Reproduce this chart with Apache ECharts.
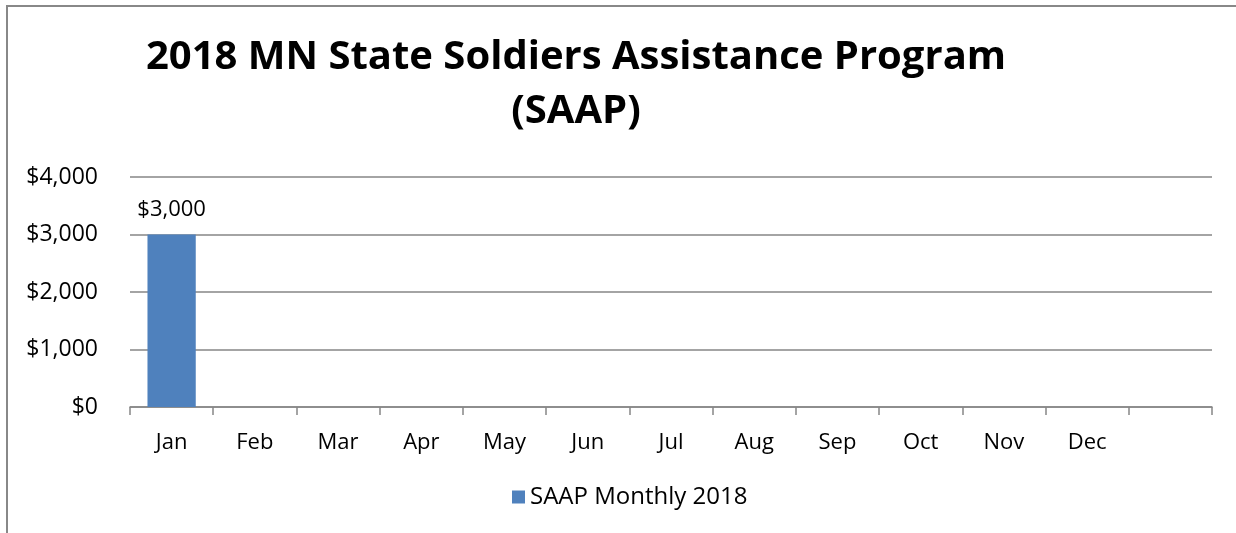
<!DOCTYPE html>
<html>
<head>
<meta charset="utf-8">
<script src="https://cdn.jsdelivr.net/npm/echarts@6/dist/echarts.min.js"></script>
<style>
  html, body { margin: 0; padding: 0; background: #fff; }
  #chart { width: 1236px; height: 533px; }
</style>
</head>
<body>
<div id="chart"></div>
<script>
const months = ['Jan', 'Feb', 'Mar', 'Apr', 'May', 'Jun', 'Jul', 'Aug', 'Sep', 'Oct', 'Nov', 'Dec', ''];
const saapMonthly = [3000, null, null, null, null, null, null, null, null, null, null, null, null];
const yTicks = [0, 1000, 2000, 3000, 4000];

const fontFam = '"Open Sans", "Noto Sans", sans-serif';
const money = v => '$' + Number(v).toLocaleString('en-US');

const chart = echarts.init(document.getElementById('chart'));

const option = {
  animation: false,
  title: {
    text: '2018 MN State Soldiers Assistance Program\n(SAAP)',
    left: 571,
    textAlign: 'center',
    top: 26,
    textStyle: {
      fontFamily: fontFam,
      fontWeight: 'bold',
      fontSize: 40,
      lineHeight: 54,
      color: '#000'
    }
  },
  legend: {
    bottom: 19,
    left: 507,
    itemWidth: 13,
    itemHeight: 13,
    itemGap: 6,
    icon: 'rect',
    textStyle: { fontFamily: fontFam, fontSize: 24, color: '#000' },
    data: ['SAAP Monthly 2018']
  },
  grid: { left: 130, right: 24, top: 177, bottom: 126 },
  xAxis: {
    type: 'category',
    data: months,
    axisLine: { lineStyle: { color: '#868686', width: 1.5 } },
    axisTick: { show: true, length: 8, lineStyle: { color: '#868686', width: 1.5 } },
    axisLabel: { fontFamily: fontFam, fontSize: 22, color: '#000', margin: 25 }
  },
  yAxis: {
    type: 'value',
    min: yTicks[0],
    max: yTicks[yTicks.length - 1],
    interval: 1000,
    axisLine: { show: false },
    axisTick: { show: false },
    splitLine: { lineStyle: { color: '#868686', width: 1.5 } },
    axisLabel: { fontFamily: fontFam, fontSize: 23, color: '#000', margin: 32, formatter: money }
  },
  series: [{
    name: 'SAAP Monthly 2018',
    type: 'bar',
    data: saapMonthly,
    barWidth: '58%',
    itemStyle: { color: '#4f81bd' },
    label: {
      show: true,
      position: 'top',
      distance: 14,
      fontFamily: fontFam,
      fontSize: 22,
      color: '#000',
      formatter: p => money(p.value)
    }
  }],
  graphic: [
    { type: 'line', shape: { x1: 7, y1: 6, x2: 7, y2: 533 }, style: { stroke: '#888', lineWidth: 2 } },
    { type: 'line', shape: { x1: 6, y1: 6, x2: 1236, y2: 6 }, style: { stroke: '#888', lineWidth: 2 } }
  ]
};

chart.setOption(option);
</script>
</body>
</html>
